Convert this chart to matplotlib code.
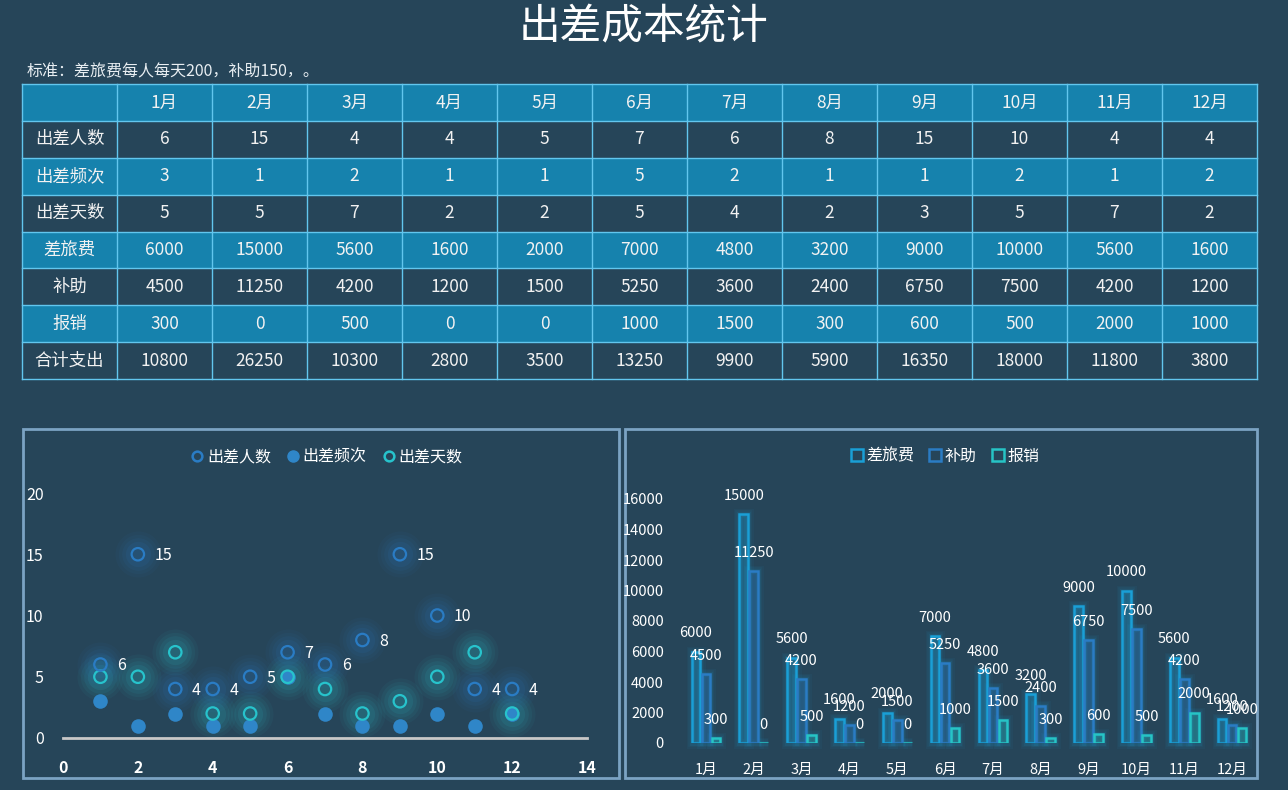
"""
  出差成本统计: table + scatter + grouped bars.
"""
import numpy as np
import matplotlib
matplotlib.use('Agg')
import matplotlib.pyplot as plt
from matplotlib.patches import Rectangle
from matplotlib.lines import Line2D
from matplotlib.colors import to_rgb

plt.rcParams['font.family'] = ['Noto Sans CJK SC', 'DejaVu Sans']

months = ['1月', '2月', '3月', '4月', '5月', '6月', '7月', '8月', '9月', '10月', '11月', '12月']
row_names = ['出差人数', '出差频次', '出差天数', '差旅费', '补助', '报销', '合计支出']
people = [6, 15, 4, 4, 5, 7, 6, 8, 15, 10, 4, 4]
freq = [3, 1, 2, 1, 1, 5, 2, 1, 1, 2, 1, 2]
days = [5, 5, 7, 2, 2, 5, 4, 2, 3, 5, 7, 2]
travel = [6000, 15000, 5600, 1600, 2000, 7000, 4800, 3200, 9000, 10000, 5600, 1600]
subsidy = [4500, 11250, 4200, 1200, 1500, 5250, 3600, 2400, 6750, 7500, 4200, 1200]
reimb = [300, 0, 500, 0, 0, 1000, 1500, 300, 600, 500, 2000, 1000]
total = [10800, 26250, 10300, 2800, 3500, 13250, 9900, 5900, 16350, 18000, 11800, 3800]

BG = '#264559'
BLUE_ROW = '#1682ad'
GRID = '#62c6ee'
BORDER = '#7ba3c3'
C_PEOPLE = '#2a7cc4'
C_FREQ = '#2f86c8'
C_DAYS = '#27c3cc'
C_TRAVEL = '#1a9fd6'
C_SUB = '#2a7cc4'
C_REIMB = '#26c4c6'

W, H = 1288, 790
fig = plt.figure(figsize=(W / 100, H / 100), dpi=100, facecolor=BG)

# ---- fundo: titulo, tabela, molduras (coordenadas em pixels)
bg = fig.add_axes([0, 0, 1, 1], zorder=0)
bg.set_xlim(0, W)
bg.set_ylim(H, 0)
bg.axis('off')
bg.set_facecolor(BG)

bg.text(W / 2, 28, '出差成本统计', color='white', fontsize=30, ha='center', va='center')
bg.text(27, 72, '标准：差旅费每人每天200，补助150，。', color='#e8eef2', fontsize=11.5,
        ha='left', va='center')

xs = np.linspace(22, 1257, 14)
ys = np.linspace(84, 379, 9)
rows = [[''] + months] + [[n] + [str(v) for v in vals] for n, vals in
                          zip(row_names, [people, freq, days, travel, subsidy, reimb, total])]
for r, row in enumerate(rows):
    fc = BLUE_ROW if r % 2 == 0 else BG
    bg.add_patch(Rectangle((xs[0], ys[r]), xs[-1] - xs[0], ys[r + 1] - ys[r], facecolor=fc,
                           edgecolor='none'))
    for c, txt in enumerate(row):
        bg.text((xs[c] + xs[c + 1]) / 2, (ys[r] + ys[r + 1]) / 2, txt, color='#f2f2f2',
                fontsize=12.5, ha='center', va='center')
for x in xs:
    bg.plot([x, x], [ys[0], ys[-1]], color=GRID, lw=1)
for y in ys:
    bg.plot([xs[0], xs[-1]], [y, y], color=GRID, lw=1)

bg.add_patch(Rectangle((23, 429), 596, 349, fill=False, edgecolor=BORDER, lw=2))
bg.add_patch(Rectangle((625, 429), 632, 349, fill=False, edgecolor=BORDER, lw=2))

# ---- dispersao
ax1 = fig.add_axes([63 / W, (H - 738) / H, (587 - 63) / W, (738 - 493) / H], zorder=2)
ax1.set_facecolor('none')
ax1.set_xlim(0, 14)
ax1.set_ylim(0, 20)
x = np.arange(1, 13)

for vals, c in [(days, C_DAYS), (people, C_PEOPLE)]:
    for s, a in [(1100, 0.05), (800, 0.06), (550, 0.08), (330, 0.1)]:
        ax1.scatter(x, vals, s=s, color=c, alpha=a, lw=0, clip_on=False)
ax1.scatter(x, freq, s=110, color=C_FREQ, lw=0, clip_on=False, zorder=3)
ax1.scatter(x, days, s=80, facecolors='none', edgecolors=C_DAYS, lw=1.6, clip_on=False, zorder=4)
ax1.scatter(x, people, s=80, facecolors='none', edgecolors=C_PEOPLE, lw=1.6, clip_on=False, zorder=4)
for xi, v in zip(x, people):
    ax1.annotate(str(v), (xi, v), xytext=(12, -1), textcoords='offset points', color='white',
                 fontsize=11.5, ha='left', va='center')

ax1.set_xticks(range(0, 15, 2))
ax1.set_yticks(range(0, 21, 5))
ax1.tick_params(length=0, colors='white', labelsize=11.5)
ax1.tick_params(axis='x', pad=16)
ax1.tick_params(axis='y', pad=14)
for lab in ax1.get_xticklabels():
    lab.set_fontweight('bold')
for sp in ['top', 'right', 'left']:
    ax1.spines[sp].set_visible(False)
ax1.spines['bottom'].set_color('#c8c8c8')
ax1.spines['bottom'].set_linewidth(2)

h1 = [Line2D([], [], ls='none', marker='o', ms=7, mfc='none', mec=C_PEOPLE, mew=1.8),
      Line2D([], [], ls='none', marker='o', ms=8, mfc=C_FREQ, mec=C_FREQ),
      Line2D([], [], ls='none', marker='o', ms=7, mfc='none', mec=C_DAYS, mew=1.8)]
fig.legend(h1, ['出差人数', '出差频次', '出差天数'], loc='center', bbox_to_anchor=(326 / W, (H - 457) / H),
           ncol=3, frameon=False, labelcolor='white', fontsize=11.5, handletextpad=0.1,
           columnspacing=0.9, handlelength=1)

# ---- barras agrupadas
ax2 = fig.add_axes([682 / W, (H - 743) / H, (1256 - 682) / W, (743 - 499) / H], zorder=2)
ax2.set_facecolor('none')
ax2.set_xlim(0.5, 12.5)
ax2.set_ylim(0, 16000)
bw = 0.18
for off, vals, c in [(-0.21, travel, C_TRAVEL), (0, subsidy, C_SUB), (0.21, reimb, C_REIMB)]:
    for lw, a in [(8, 0.05), (5.5, 0.07), (3.5, 0.1)]:
        ax2.bar(x + off, vals, bw, fill=False, edgecolor=C_TRAVEL, lw=lw, alpha=a, clip_on=False)
    bars = ax2.bar(x + off, vals, bw, facecolor=(*to_rgb(c), 0.3), edgecolor=c, lw=1.8, zorder=3)
    ax2.bar_label(bars, padding=8, color='white', fontsize=10.5)

ax2.set_xticks(x, months)
ax2.set_yticks(range(0, 16001, 2000))
ax2.tick_params(length=0, colors='white', labelsize=10.5)
ax2.tick_params(axis='x', pad=14)
ax2.tick_params(axis='y', pad=13)
for sp in ax2.spines.values():
    sp.set_visible(False)

h2 = [Line2D([], [], ls='none', marker='s', ms=8, mfc='none', mec=c, mew=1.8)
      for c in [C_TRAVEL, C_SUB, C_REIMB]]
fig.legend(h2, ['差旅费', '补助', '报销'], loc='center', bbox_to_anchor=(944 / W, (H - 456) / H),
           ncol=3, frameon=False, labelcolor='white', fontsize=11.5, handletextpad=0.1,
           columnspacing=0.8, handlelength=1)

fig.savefig('out.png', dpi=100, facecolor=BG)
